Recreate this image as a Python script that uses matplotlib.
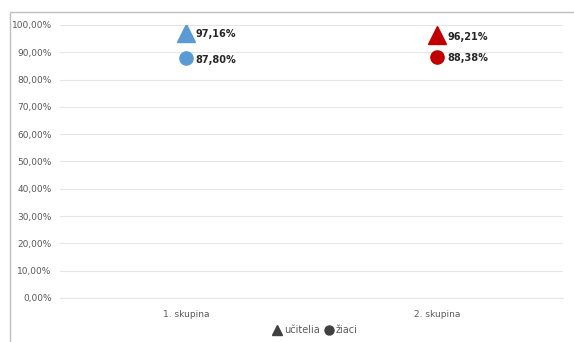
import matplotlib.pyplot as plt
from matplotlib.lines import Line2D
from matplotlib.patches import Rectangle

categories = ["1. skupina", "2. skupina"]
ucitelia = [97.16, 96.21]
ziaci = [87.80, 88.38]
point_colors = ["#5B9BD5", "#C00000"]
yticks = list(range(0, 101, 10))


def pct(v):
    return f"{v:.2f}".replace(".", ",") + "%"


fig = plt.figure(figsize=(5.74, 3.42), dpi=100)
ax = fig.add_axes([0.1045, 0.1287, 0.8765, 0.7983])

# chart border (only top and left edges visible)
fig.patches.append(Rectangle((10 / 574, -0.1), 1.2, 1 - 12 / 342 + 0.1,
                             transform=fig.transFigure, fill=False,
                             edgecolor="#BFBFBF", linewidth=1.0))

xs = [i + 0.5 for i in range(len(categories))]
for x, t, s, c in zip(xs, ucitelia, ziaci, point_colors):
    ax.plot(x, t, marker="^", markersize=13, color=c, linestyle="none", zorder=3)
    ax.plot(x, s, marker="o", markersize=9.5, color=c, linestyle="none", zorder=3)
    ax.annotate(pct(t), (x, t), xytext=(7, -1), textcoords="offset points",
                ha="left", va="center", fontsize=7, fontweight="bold", color="#262626")
    ax.annotate(pct(s), (x, s), xytext=(7, -1), textcoords="offset points",
                ha="left", va="center", fontsize=7, fontweight="bold", color="#262626")

ax.set_xlim(0, len(categories))
ax.set_ylim(0, 100)
ax.set_xticks(xs)
ax.set_xticklabels(categories)
ax.set_yticks(yticks)
ax.set_yticklabels([pct(v) for v in yticks])
ax.tick_params(length=0, labelsize=6.5, labelcolor="#595959", pad=6)
ax.tick_params(axis="x", pad=9)
ax.grid(axis="y", color="#E6E6E6", linewidth=0.8)
ax.set_axisbelow(True)
for sp in ax.spines.values():
    sp.set_visible(False)
ax.spines["bottom"].set_visible(True)
ax.spines["bottom"].set_color("#E6E6E6")
ax.spines["bottom"].set_linewidth(0.8)

handles = [
    Line2D([], [], marker="^", color="#404040", linestyle="none", markersize=6.5),
    Line2D([], [], marker="o", color="#404040", linestyle="none", markersize=6.5),
]
fig.legend(handles, ["učitelia", "žiaci"], loc="center", bbox_to_anchor=(315 / 574, 1 - 330 / 342),
           ncol=2, frameon=False, fontsize=7, labelcolor="#595959",
           handletextpad=0.2, columnspacing=0.4, handlelength=1.0)

fig.savefig("out.png", dpi=100)
